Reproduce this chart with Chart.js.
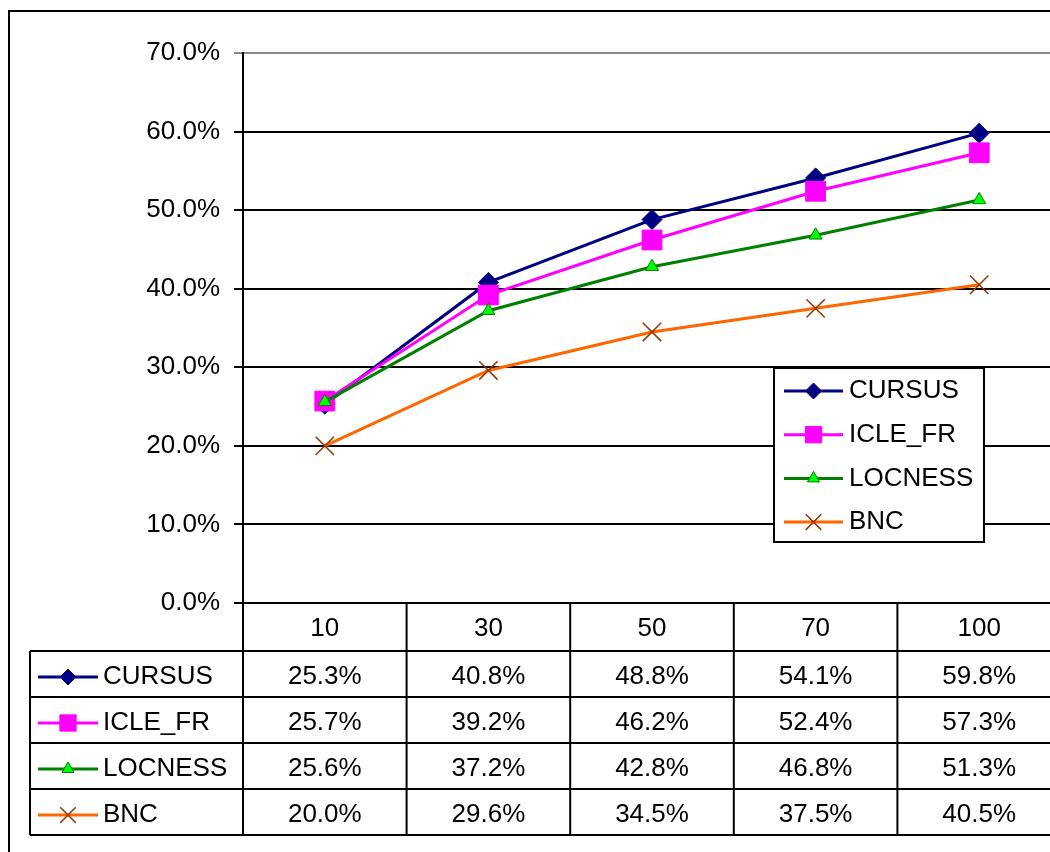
<!DOCTYPE html>
<html>
<head>
<meta charset="utf-8">
<script src="https://cdn.jsdelivr.net/npm/chart.js@4"></script>
<style>
  html, body { margin: 0; padding: 0; overflow: hidden; background: #fff; width: 1050px; height: 852px; }
  #chart { position: absolute; left: 0; top: 0; }
  #frame { position: absolute; left: 8px; top: 10px; width: 1040px; height: 840px;
           border-left: 2px solid #000; border-top: 2px solid #000; pointer-events: none; }
</style>
</head>
<body>
<!-- canvas is a bit wider than the window: the plot runs past the right edge as in the source -->
<canvas id="chart" width="1076" height="852" style="width:1076px;height:852px"></canvas>
<div id="frame"></div>
<script>
// ------------------- DATA -------------------
const categories = ['10', '30', '50', '70', '100'];
const cursus = [25.3, 40.8, 48.8, 54.1, 59.8];
const icleFr = [25.7, 39.2, 46.2, 52.4, 57.3];
const locness = [25.6, 37.2, 42.8, 46.8, 51.3];
const bnc = [20.0, 29.6, 34.5, 37.5, 40.5];
const seriesNames = ['CURSUS', 'ICLE_FR', 'LOCNESS', 'BNC'];

const FONT = '26px "Liberation Sans", Arial, sans-serif';
Chart.defaults.font.family = '"Liberation Sans", Arial, sans-serif';
Chart.defaults.font.size = 26;
Chart.defaults.color = '#000';

// marker sizes used in the legend / table keys
const keyRadius = { rectRot: 8, rect: 11.5, triangle: 7, crossRot: 11 };

function pct(v) { return v.toFixed(1) + '%'; }

function drawKey(ctx, ds, x1, x2, y) {
  ctx.save();
  ctx.strokeStyle = ds.borderColor;
  ctx.lineWidth = 3;
  ctx.beginPath();
  ctx.moveTo(x1, y);
  ctx.lineTo(x2, y);
  ctx.stroke();
  ctx.fillStyle = ds.pointBackgroundColor;
  ctx.strokeStyle = ds.pointBorderColor;
  ctx.lineWidth = ds.pointBorderWidth;
  Chart.helpers.drawPoint(ctx, {
    pointStyle: ds.pointStyle,
    radius: keyRadius[ds.pointStyle],
    rotation: 0,
    borderWidth: ds.pointBorderWidth
  }, (x1 + x2) / 2, y);
  ctx.restore();
}

// ------------------- TABLE + LEGEND -------------------
const tablePlugin = {
  id: 'dataTable',
  afterDraw(chart) {
    const ctx = chart.ctx;
    const area = chart.chartArea;
    const xs = chart.scales.x;
    const tableLeft = 30;
    const rowTop = area.bottom + 48;
    const rowH = 46;
    const bottom = rowTop + rowH * seriesNames.length;

    ctx.save();
    ctx.strokeStyle = '#000';
    ctx.lineWidth = 2;

    // column boundaries
    const bounds = [area.left];
    for (let i = 0; i < categories.length - 1; i++) {
      bounds.push((xs.getPixelForValue(i) + xs.getPixelForValue(i + 1)) / 2);
    }
    bounds.push(area.right);
    ctx.beginPath();
    bounds.forEach(b => { ctx.moveTo(b, area.bottom); ctx.lineTo(b, bottom); });
    ctx.moveTo(tableLeft, rowTop);
    ctx.lineTo(tableLeft, bottom);
    for (let r = 0; r <= seriesNames.length; r++) {
      ctx.moveTo(tableLeft, rowTop + r * rowH);
      ctx.lineTo(area.right, rowTop + r * rowH);
    }
    ctx.stroke();

    // rows
    ctx.font = FONT;
    ctx.fillStyle = '#000';
    ctx.textBaseline = 'middle';
    chart.data.datasets.forEach((ds, r) => {
      const y = rowTop + r * rowH + rowH / 2 + 3;
      drawKey(ctx, ds, 38, 98, y);
      ctx.fillStyle = '#000';
      ctx.textAlign = 'left';
      ctx.fillText(ds.label, 103, y);
      ctx.textAlign = 'center';
      ds.data.forEach((v, i) => ctx.fillText(pct(v), xs.getPixelForValue(i), y));
    });

    // legend box inside the plot
    const lx = area.left + 531, ly = area.top + 315, lw = 210, lh = 174;
    ctx.fillStyle = '#fff';
    ctx.fillRect(lx, ly, lw, lh);
    ctx.strokeRect(lx, ly, lw, lh);
    chart.data.datasets.forEach((ds, r) => {
      const y = ly + 23 + r * 43.7;
      drawKey(ctx, ds, lx + 10, lx + 69, y);
      ctx.fillStyle = '#000';
      ctx.textAlign = 'left';
      ctx.fillText(ds.label, lx + 75, y);
    });
    ctx.restore();
  }
};

// ------------------- CHART -------------------
new Chart(document.getElementById('chart'), {
  type: 'line',
  data: {
    labels: categories,
    datasets: [
      { label: seriesNames[0], data: cursus, borderColor: '#000080', borderWidth: 3,
        pointStyle: 'rectRot', pointRadius: 10, pointBackgroundColor: '#000080',
        pointBorderColor: '#000080', pointBorderWidth: 1, order: 3 },
      { label: seriesNames[1], data: icleFr, borderColor: '#FF00FF', borderWidth: 3,
        pointStyle: 'rect', pointRadius: 14, pointBackgroundColor: '#FF00FF',
        pointBorderColor: '#FF00FF', pointBorderWidth: 1, order: 2 },
      { label: seriesNames[2], data: locness, borderColor: '#008000', borderWidth: 3,
        pointStyle: 'triangle', pointRadius: 7.5, pointBackgroundColor: '#00FF00',
        pointBorderColor: '#008000', pointBorderWidth: 1, order: 1 },
      { label: seriesNames[3], data: bnc, borderColor: '#FF6600', borderWidth: 3,
        pointStyle: 'crossRot', pointRadius: 13, pointBackgroundColor: '#993300',
        pointBorderColor: '#993300', pointBorderWidth: 1.5, order: 0 }
    ]
  },
  options: {
    responsive: false,
    animation: false,
    layout: { padding: { left: 0, top: 53, right: 0, bottom: 201 } },
    plugins: { legend: { display: false }, tooltip: { enabled: false } },
    elements: { line: { tension: 0 } },
    scales: {
      x: {
        offset: true,
        grid: { display: false, drawTicks: false },
        border: { display: false },
        ticks: { padding: 10, font: { size: 26 } },
        afterFit(scale) { scale.height = 48; }
      },
      y: {
        min: 0,
        max: 70,
        ticks: { stepSize: 10, padding: 14, callback: v => pct(v), font: { size: 26 } },
        grid: {
          color: c => (c.tick && c.tick.value === 70 ? '#8a8a8a' : '#000'),
          lineWidth: 2,
          tickLength: 9
        },
        border: { display: true, color: '#000', width: 2 },
        afterFit(scale) { scale.width = 243; }
      }
    }
  },
  plugins: [tablePlugin]
});
</script>
</body>
</html>
